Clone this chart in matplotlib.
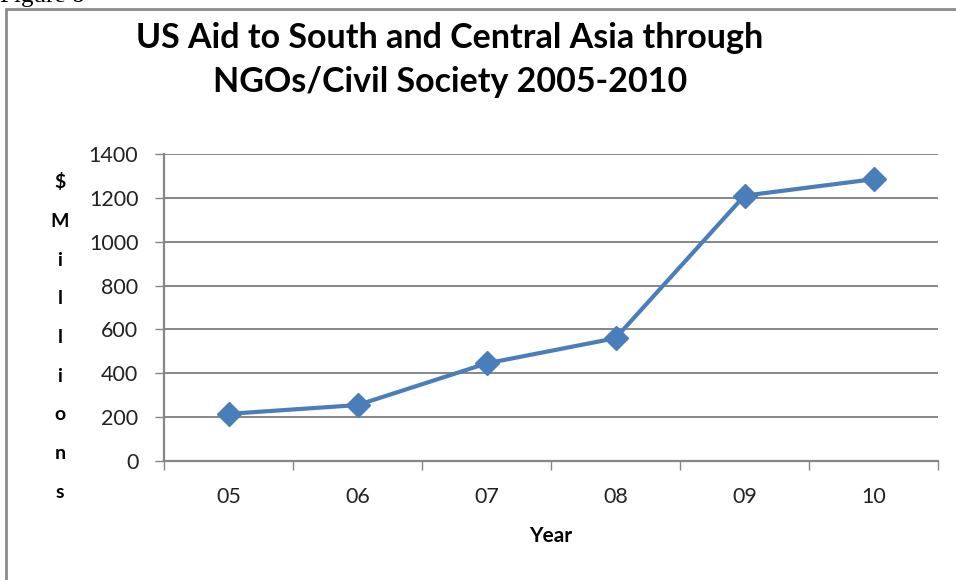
import matplotlib.pyplot as plt
import matplotlib.patches as patches
import numpy as np

# 数据
years = ['05', '06', '07', '08', '09', '10']
aid = [215, 255, 445, 560, 1210, 1285]

plt.rcParams['font.family'] = ['Lato', 'DejaVu Sans']

fig = plt.figure(figsize=(9.56, 5.8), dpi=100)
ax = fig.add_axes([164 / 956, 1 - 461 / 580, (938 - 164) / 956, (461 - 154) / 580])

x = np.arange(len(years))
ax.plot(x, aid, color='#4a7ebb', linewidth=3, marker='D', markersize=12,
        markerfacecolor='#4a7ebb', markeredgecolor='#4a7ebb', zorder=3)

ax.set_xlim(-0.5, len(years) - 0.5)
ax.set_ylim(0, 1400)
ax.set_yticks(np.arange(0, 1401, 200))
ax.set_xticks(x)
ax.set_xticklabels(years)
ax.set_xticks(np.arange(-0.5, len(years)), minor=True)

grid_c = '#868686'
ax.grid(axis='y', color=grid_c, linewidth=1.4)
ax.set_axisbelow(True)
for s in ['top', 'right']:
    ax.spines[s].set_visible(False)
for s in ['left', 'bottom']:
    ax.spines[s].set_color(grid_c)
    ax.spines[s].set_linewidth(1.6)

ax.tick_params(axis='y', length=6.5, width=1, color=grid_c, pad=12, labelsize=15.5, labelcolor='#222222')
ax.tick_params(axis='x', which='major', length=0, pad=19, labelsize=15.5, labelcolor='#222222')
ax.tick_params(axis='x', which='minor', length=6.5, width=1, color=grid_c)

# 标题
fig.text(450 / 956, 1 - 38 / 580, 'US Aid to South and Central Asia through',
         ha='center', va='center', fontsize=24.5, fontweight='bold')
fig.text(450 / 956, 1 - 82 / 580, 'NGOs/Civil Society 2005-2010',
         ha='center', va='center', fontsize=24.5, fontweight='bold')

# 竖排的 y 轴标签
fig.text(60 / 956, 1 - 337 / 580, '\n'.join('$Millions'), ha='center', va='center',
         fontsize=14, fontweight='bold', linespacing=2.55)

fig.text(551 / 956, 1 - 536 / 580, 'Year', ha='center', va='center',
         fontsize=15, fontweight='bold')

# 图框与被裁掉的 "Figure 8"
frame = patches.Rectangle((6 / 956, -0.1), 1.2, 1 - 9 / 580 + 0.1, transform=fig.transFigure,
                          fill=False, edgecolor='#8c8c8c', linewidth=2)
fig.patches.append(frame)
fig.text(0, 1 + 4 / 580, 'Figure 8', ha='left', va='center', fontsize=18,
         family=['Liberation Serif'])

fig.savefig('out.png', dpi=100)
